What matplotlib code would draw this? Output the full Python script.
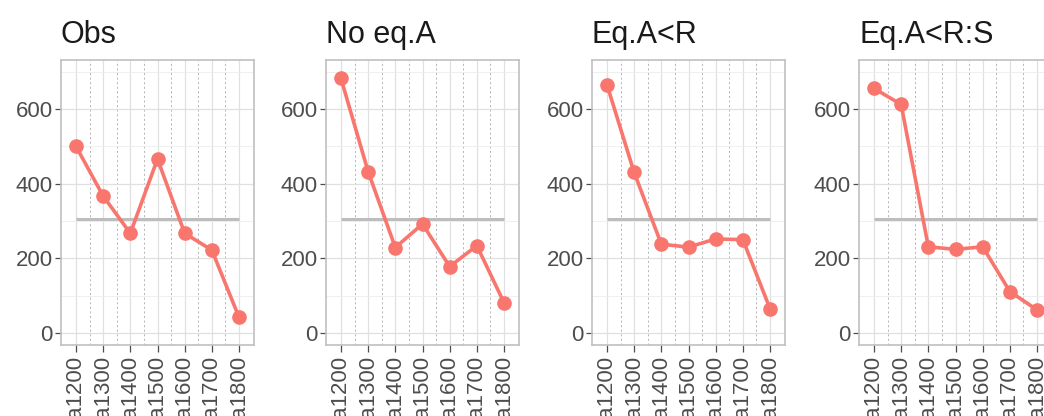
import matplotlib
matplotlib.use("Agg")
import matplotlib.pyplot as plt
import numpy as np

plt.rcParams['font.family'] = ['Liberation Sans', 'DejaVu Sans']

categories = ["a1200", "a1300", "a1400", "a1500", "a1600", "a1700", "a1800"]
titles = ["Obs", "No eq.A", "Eq.A<R", "Eq.A<R:S"]
obs = [500, 367, 267, 466, 267, 222, 42]
no_eq_a = [682, 432, 229, 292, 178, 234, 81]
eq_a_r = [665, 430, 238, 230, 252, 250, 65]
eq_a_r_s = [655, 612, 231, 224, 231, 111, 62]
reference_level = 305

series = [obs, no_eq_a, eq_a_r, eq_a_r_s]

RED = "#F8766D"
W, H = 1044, 416
fig = plt.figure(figsize=(W / 100, H / 100), dpi=100)
fig.patch.set_facecolor("white")

lefts = [61, 326, 592, 859]
ax_w, top_px, bot_px = 193, 60, 345
x = np.arange(len(categories))

for left, title, vals in zip(lefts, titles, series):
    ax = fig.add_axes([left / W, 1 - bot_px / H, ax_w / W, (bot_px - top_px) / H])
    ax.set_xlim(-0.55, len(categories) - 0.45)
    ax.set_ylim(-32, 731)
    ax.set_yticks([0, 200, 400, 600])
    ax.set_yticks([100, 300, 500, 700], minor=True)
    ax.set_xticks(x)
    ax.set_xticklabels(categories, rotation=90, va="top", ha="center")
    ax.grid(True, which="major", color="#e0e0e0", lw=0.9)
    ax.grid(True, which="minor", axis="y", color="#ededed", lw=0.6)
    ax.set_axisbelow(True)
    for mid in x[:-1] + 0.5:
        ax.axvline(mid, color="#ababab", lw=0.6, ls=(0, (2.5, 3)), zorder=0.5)
    for sp in ax.spines.values():
        sp.set_color("#c0c0c0")
        sp.set_linewidth(1.2)
    ax.tick_params(axis="both", which="major", length=4, width=0.9, color="#4d4d4d",
                   labelcolor="#4d4d4d", labelsize=16, pad=2)
    ax.tick_params(axis="x", which="major", length=5, pad=3)
    ax.tick_params(which="minor", length=0)
    ax.plot([x[0], x[-1]], [reference_level, reference_level], color="#bdbdbd", lw=2.2,
            solid_capstyle="butt", zorder=2)
    ax.plot(x, vals, color=RED, lw=2.6, marker="o", ms=9.5, zorder=3, clip_on=False)
    ax.set_title(title, loc="left", fontsize=22, color="#1a1a1a", pad=12)

fig.savefig("out.png", dpi=100)
